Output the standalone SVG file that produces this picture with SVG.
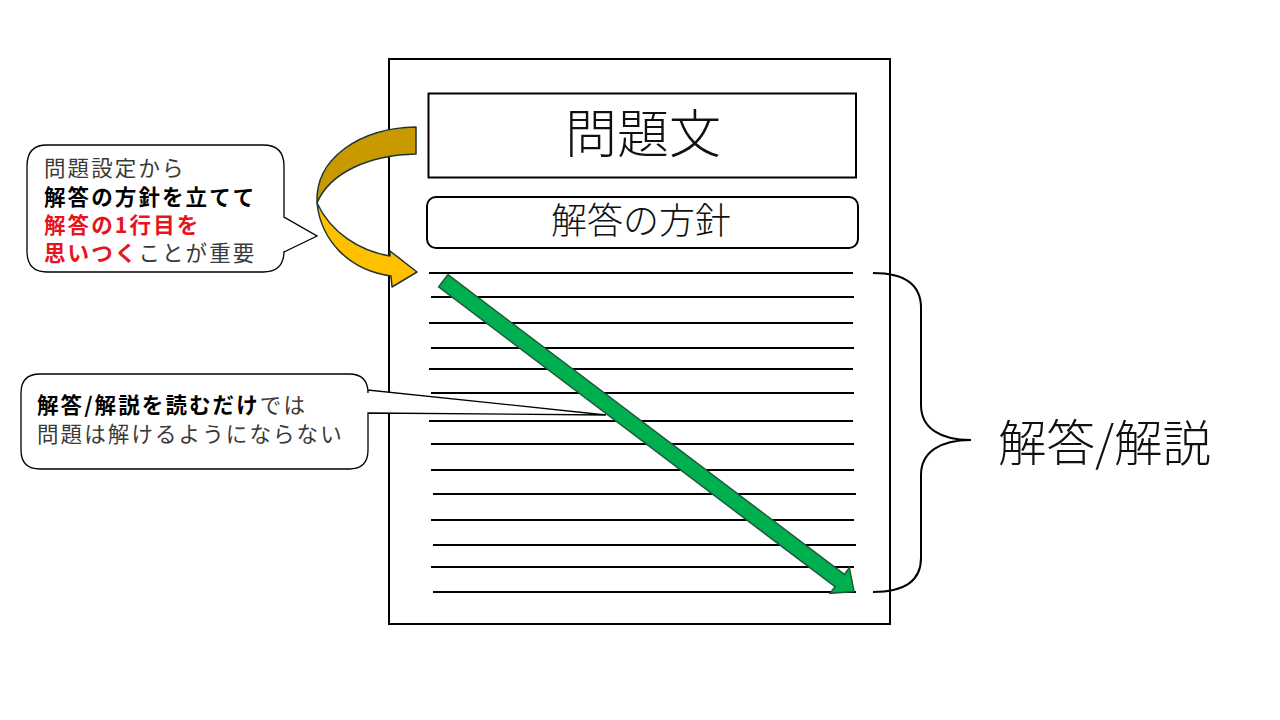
<svg xmlns="http://www.w3.org/2000/svg" width="1280" height="720" viewBox="0 0 1280 720">
<style>
.ln{stroke:#000;stroke-width:2}
.box{fill:#fff;stroke:#000;stroke-width:2}
.cjk{font-family:"Noto Sans CJK JP","Noto Sans",sans-serif}
.big{font-weight:300;fill:#111}
.co{font-size:21.5px;letter-spacing:2.1px;fill:#3a3a3a}
.b{font-weight:700;fill:#000}
.r{font-weight:700;fill:#E8141B}
</style>
<rect width="1280" height="720" fill="#fff"/>
<g id="page">
<rect x="389" y="59" width="501" height="565" class="box"/>
</g>
<g id="problem">
<rect x="428.5" y="93.5" width="427.5" height="84" class="box"/>
<text x="643" y="153" text-anchor="middle" font-size="52" class="cjk big">問題文</text>
</g>
<g id="policy">
<rect x="427" y="197" width="431" height="51" rx="9" class="box"/>
<text x="641" y="234" text-anchor="middle" font-size="36" class="cjk big">解答の方針</text>
</g>
<g id="answer-lines">
<line x1="429" y1="273" x2="853" y2="273" class="ln"/>
<line x1="431" y1="297" x2="854" y2="297" class="ln"/>
<line x1="429" y1="323" x2="853" y2="323" class="ln"/>
<line x1="431" y1="348" x2="854" y2="348" class="ln"/>
<line x1="429" y1="369" x2="853" y2="369" class="ln"/>
<line x1="431" y1="393" x2="854" y2="393" class="ln"/>
<line x1="429" y1="421" x2="853" y2="421" class="ln"/>
<line x1="431" y1="444" x2="854" y2="444" class="ln"/>
<line x1="431" y1="470" x2="854" y2="470" class="ln"/>
<line x1="433" y1="494" x2="856" y2="494" class="ln"/>
<line x1="431" y1="520" x2="854" y2="520" class="ln"/>
<line x1="433" y1="545" x2="856" y2="545" class="ln"/>
<line x1="431" y1="567" x2="854" y2="567" class="ln"/>
<line x1="433" y1="592" x2="856" y2="592" class="ln"/>
</g>
<g id="brace-label">
<path d="M873,273 C905,273 921,285 921,308 L921,405 C921,428 940,440 971,440 C940,440 921,452 921,475 L921,558 C921,581 905,592 873,592" fill="none" stroke="#000" stroke-width="2"/>
<text x="998" y="461" font-size="48.5" class="cjk big">解答/解説</text>
</g>
<g id="callout-policy">
<path d="M47,145 L263,145 Q284,145 284,166 L284,217 L317,236 L284,252 L284,251 Q284,272 263,272 L47,272 Q27,272 27,251 L27,166 Q27,145 47,145 Z" fill="#fff" stroke="#000" stroke-width="1.3"/>
<text x="44" y="176" class="cjk co">問題設定から</text>
<text x="44" y="205" class="cjk co b">解答の方針を立てて</text>
<text x="44" y="233" class="cjk co r">解答の1行目を</text>
<text x="44" y="261" class="cjk co"><tspan class="r">思いつく</tspan>ことが重要</text>
</g>
<g id="callout-reading">
<path d="M40,374 L349,374 Q368,374 368,393 L368,390 L606,415 L368,413 L368,450 Q368,469 349,469 L40,469 Q21,469 21,450 L21,393 Q21,374 40,374 Z" fill="#fff" stroke="#000" stroke-width="1.3"/>
<text x="37" y="413" class="cjk co"><tspan class="b">解答/解説を読むだけ</tspan>では</text>
<text x="37" y="442" class="cjk co">問題は解けるようにならない</text>
</g>
<g id="connectors">
<path d="M317,203 C315,158 360,128 416,127 L416,154 C370,155 330,172 317,203 Z" fill="#C99A00" stroke="#1f3535" stroke-width="1.5" stroke-linejoin="round"/>
<path d="M317,203 C321,240 348,270 391,276 L392,287 L417,272 L390,251 L390,256 C360,251 331,233 317,203 Z" fill="#FFC000" stroke="#1f3535" stroke-width="1.5" stroke-linejoin="round"/>
<path d="M0,-7.7 L497,-7.7 L497,-16 L515,0 L497,16 L497,7.7 L0,7.7 Z" transform="translate(443.3,280.8) rotate(37.1)" fill="#00B050" stroke="#1d5a38" stroke-width="1.5" stroke-linejoin="miter"/>
</g>
</svg>
